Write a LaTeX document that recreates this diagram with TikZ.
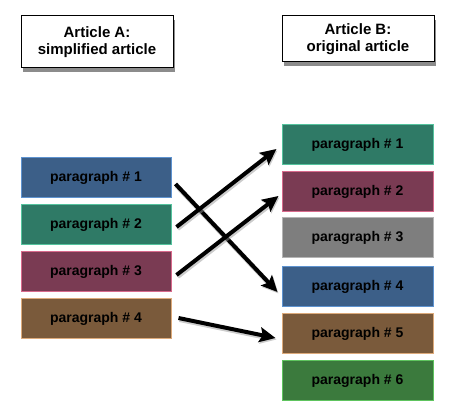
\documentclass[tikz,border=0pt]{standalone}
\usepackage{fontspec}
\setmainfont{Liberation Sans}
\usetikzlibrary{arrows.meta,shadows,calc}
\definecolor{pblue}{HTML}{3C5F88}
\definecolor{pblueb}{HTML}{5E93D0}
\definecolor{pteal}{HTML}{2F7A66}
\definecolor{ptealb}{HTML}{55C39E}
\definecolor{pmaroon}{HTML}{7A3B53}
\definecolor{pmaroonb}{HTML}{D86A8C}
\definecolor{pgrey}{HTML}{7E7E7E}
\definecolor{pgreyb}{HTML}{B4B4B4}
\definecolor{pbrown}{HTML}{7A5A3B}
\definecolor{pbrownb}{HTML}{DDAA7A}
\definecolor{pgreen}{HTML}{3B7A3D}
\definecolor{pgreenb}{HTML}{5EC45E}
\tikzset{
  header/.style={draw=black, line width=1pt, fill=white, minimum width=152pt,
    align=center, font=\fontsize{15}{17}\selectfont\bfseries,
    drop shadow={shadow xshift=2pt, shadow yshift=-4pt, opacity=0.45, fill=black}},
  para/.style={draw=#1b, line width=1pt, fill=#1, minimum height=40pt,
    font=\fontsize{14}{16}\selectfont\bfseries, text=black},
  lpara/.style={para=#1, minimum width=150pt},
  rpara/.style={para=#1, minimum width=151pt},
  link/.style={line width=4pt, black,
    -{Stealth[length=16pt, width=15pt, inset=3pt]},
    preaction={draw=black!40, opacity=0.5, line width=5pt, transform canvas={xshift=1pt,yshift=-1.5pt}}}
}
\begin{document}
\begin{tikzpicture}[x=1pt,y=-1pt]
\useasboundingbox (0,0) rectangle (453,411);
\node[header, minimum height=52pt] (hA) at (97,42) {Article A:\\simplified article};
\node[header, minimum height=46pt] (hB) at (358,39) {Article B:\\original article};

\node[lpara=pblue]   (L1) at (96,178) {paragraph \# 1};
\node[lpara=pteal]   (L2) at (96,225) {paragraph \# 2};
\node[lpara=pmaroon] (L3) at (96,272) {paragraph \# 3};
\node[lpara=pbrown]  (L4) at (96,319) {paragraph \# 4};

\node[rpara=pteal]   (R1) at (357.5,145) {paragraph \# 1};
\node[rpara=pmaroon] (R2) at (357.5,192) {paragraph \# 2};
\node[rpara=pgrey]   (R3) at (357.5,238) {paragraph \# 3};
\node[rpara=pblue]   (R4) at (357.5,287) {paragraph \# 4};
\node[rpara=pbrown]  (R5) at (357.5,334) {paragraph \# 5};
\node[rpara=pgreen]  (R6) at (357.5,381) {paragraph \# 6};

\draw[link] ($(L1.east)+(4,6)$) -- ($(R4.west)+(-4,5)$);
\draw[link] ($(L2.east)+(5,2)$) -- ($(R1.west)+(-5,4)$);
\draw[link] ($(L3.east)+(5,3)$) -- ($(R2.west)+(-3,4)$);
\draw[link] ($(L4.east)+(7,-1)$) -- ($(R5.west)+(-6,4)$);
\end{tikzpicture}
\end{document}
